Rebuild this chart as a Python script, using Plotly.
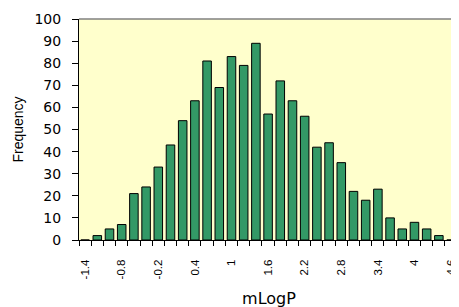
import plotly.graph_objects as go

# Bin centres (mLogP) and frequencies
bin_centers = [-1.4, -1.2, -1.0, -0.8, -0.6, -0.4, -0.2, 0.0, 0.2, 0.4, 0.6,
               0.8, 1.0, 1.2, 1.4, 1.6, 1.8, 2.0, 2.2, 2.4, 2.6, 2.8, 3.0,
               3.2, 3.4, 3.6, 3.8, 4.0, 4.2, 4.4, 4.6]
frequency = [0, 2, 5, 7, 21, 24, 33, 43, 54, 63, 81,
             69, 83, 79, 89, 57, 72, 63, 56, 42, 44, 35, 22,
             18, 23, 10, 5, 8, 5, 2, 0]

x_tick_vals = [-1.4, -0.8, -0.2, 0.4, 1.0, 1.6, 2.2, 2.8, 3.4, 4.0, 4.6]
x_tick_text = ["-1.4", "-0.8", "-0.2", "0.4", "1", "1.6", "2.2", "2.8", "3.4", "4", "4.6"]
y_tick_vals = [0, 10, 20, 30, 40, 50, 60, 70, 80, 90, 100]

ARIAL = "Arial, Liberation Sans, sans-serif"
WIDE = "DejaVu Sans, sans-serif"
x_range = [-1.5, 4.73]

fig = go.Figure()
fig.add_trace(go.Bar(
    x=bin_centers, y=frequency, width=0.14,
    marker=dict(color="#339966", line=dict(color="#000000", width=1)),
    showlegend=False, hoverinfo="x+y",
))

fig.update_layout(
    width=459, height=307,
    margin=dict(l=71, r=8, t=11, b=75),
    paper_bgcolor="#FFFFFF",
    plot_bgcolor="#FFFFCC",
    font=dict(family=ARIAL, size=13, color="#000000"),
    xaxis=dict(
        range=x_range, tickmode="array", tickvals=x_tick_vals, ticktext=x_tick_text,
        tickangle=-90, ticks="", ticklen=0, showgrid=False, zeroline=False,
        showline=True, linecolor="#000000", linewidth=1,
        automargin=False, ticklabeloverflow="allow",
        ticklabelstandoff=14,
        minor=dict(tick0=-1.5, dtick=0.2, ticks="outside", ticklen=5,
                   tickcolor="#000000", tickwidth=1, showgrid=False),
        title=dict(text="mLogP", font=dict(family=WIDE, size=16), standoff=14),
        tickfont=dict(family=ARIAL, size=11.5),
    ),
    xaxis2=dict(
        range=x_range, overlaying="x", anchor="y", side="bottom",
        showticklabels=False, ticks="", showgrid=False, zeroline=False,
        showline=False, automargin=False,
        minor=dict(tick0=-1.5, dtick=0.2, ticks="inside", ticklen=4,
                   tickcolor="#000000", tickwidth=1, showgrid=False),
    ),
    yaxis=dict(
        range=[0, 100], tickmode="array", tickvals=y_tick_vals,
        ticks="outside", ticklen=6, tickcolor="#000000",
        showgrid=False, zeroline=False,
        showline=True, linecolor="#000000", linewidth=1,
        automargin=False,
        ticklabelstandoff=8,
        title=dict(text="Frequency", font=dict(family=ARIAL, size=14), standoff=7),
        tickfont=dict(family=WIDE, size=14),
    ),
    yaxis2=dict(
        range=[0, 100], overlaying="y", anchor="x", side="left",
        tickmode="array", tickvals=y_tick_vals, showticklabels=False,
        ticks="inside", ticklen=3, tickcolor="#000000",
        showgrid=False, zeroline=False, showline=False, automargin=False,
    ),
    shapes=[dict(type="line", xref="paper", yref="paper", x0=0, x1=1, y0=1, y1=1,
                 line=dict(color="#808080", width=1.5))],
    bargap=0.3,
)

fig.write_html("out.html")
